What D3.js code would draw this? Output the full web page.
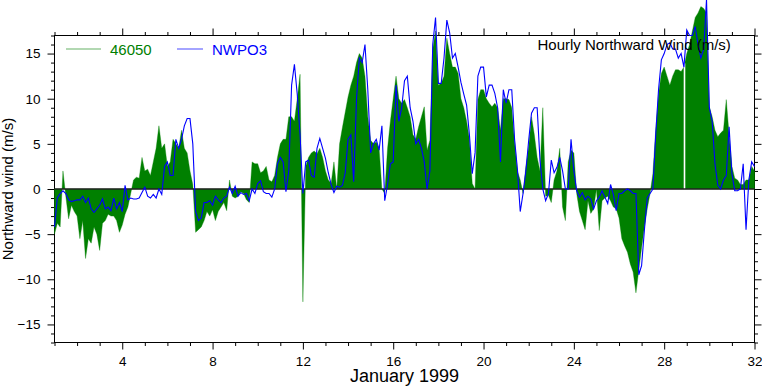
<!DOCTYPE html>
<html>
<head>
<meta charset="utf-8">
<script src="https://cdn.jsdelivr.net/npm/d3@7"></script>
<style>
body { margin: 0; background: #fff; }
text { font-family: "Liberation Sans", Arial, Helvetica, sans-serif; }
</style>
</head>
<body>
<svg id="chart" width="762" height="387"></svg>
<script>
// hourly records, every 3 hours (8 values per day), from Jan 1 00h to Feb 1 00h
var firstDay = 1;
var samplesPerDay = 8;

var buoy46050 = [
  -5.0, -3.8, -4.2, 2.0, -0.8, -3.3, -1.8, -2.5,
  -3.0, -5.5, -3.5, -7.7, -5.5, -6.0, -4.2, -5.0,
  -6.8, -3.8, -3.5, -2.8, -3.0, -3.0, -3.5, -4.8,
  -4.0, -2.8, -2.0, -0.5, 1.0, 1.3, 1.2, 3.5,
  2.0, 2.2, 1.5, 3.0, 4.5, 7.0, 4.5, 5.0,
  2.5, 3.0, 5.5, 5.0, 4.5, 6.5, 4.5, 4.0,
  2.0, 0.5, -4.8, -4.5, -4.2, -3.5, -2.5, -3.0,
  -2.3, -3.5, -2.5, -2.0, -1.5, -2.4, 1.0, -0.8,
  -1.0, -0.8, -0.3, -0.5, -1.2, -1.5, 3.0, 2.8,
  2.8, 1.8, 2.0, 2.5, 1.0, 0.8, 1.5, 3.5,
  5.0, 5.5, 5.5, 8.0, 8.0, 7.5, 10.0, 12.7,
  -12.5, 2.5, 3.5, 4.0, 4.2, 3.9, 4.5, 3.5,
  2.0, 1.0, 0.6, 3.0, 0.0, 5.0, 6.8, 8.5,
  10.2, 11.5, 12.5, 14.0, 15.0, 14.5, 12.5, 8.0,
  5.4, 5.0, 5.2, 4.5, 0.0, -0.5, 4.5, 7.5,
  10.0, 12.5, 10.0, 9.5, 9.9, 9.0, 8.0, 6.0,
  5.5, 6.9, 8.0, 9.1, 4.3, 5.4, 15.5, 17.5,
  11.5, 11.7, 12.5, 16.7, 15.0, 13.5, 13.5, 12.8,
  10.0, 9.0, 7.5, 5.5, 0.6, 0.0, 9.9, 11.0,
  11.0, 10.0, 9.5, 9.1, 9.5, 9.0, 6.5, 10.0,
  10.0, 9.9, 9.0, 5.2, 2.0, 1.0, -0.5, 2.5,
  4.7, 8.0, 6.0, 3.5, 2.0, 9.0, -0.8, -0.7,
  -1.5, 1.0, 2.0, 4.5, -2.0, -3.5, 3.0, 4.3,
  4.0, -0.5, -2.5, -3.5, -4.5, -1.3, -2.7, -2.2,
  0.0, -4.6, -1.3, -1.0, -0.8, -1.3, -2.0, -2.2,
  -3.2, -5.5, -6.3, -7.0, -8.3, -9.2, -11.5, -9.0,
  -6.5, -4.2, -2.2, -0.5, 1.7, 6.5, 10.5, 12.8,
  13.5, 12.5, 11.5, 12.5, 13.2, 13.2, 13.0, 13.5,
  15.0, 16.0, 17.5, 19.0, 19.5, 20.2, 20.0, 19.5,
  9.1, 8.0, 6.5, 5.8, 6.2, 6.5, 9.9, 6.0,
  2.5, 1.2, 1.0, 0.5, 0.5, 1.0, 1.0, 2.5,
  2.0
];

var nwpo3 = [
  -4.2, -1.0, -0.5, -0.2, -0.5, -1.2, -1.4, -1.3,
  -1.2, -1.2, -0.8, -1.5, -1.0, -2.2, -2.6, -2.2,
  -1.8, -1.1, -2.2, -2.0, -2.4, -1.0, -2.2, -1.5,
  -2.5, 0.4, -1.2, -1.0, -1.1, -1.1, -1.0, -0.4,
  0.2, -0.8, -1.0, -0.6, -1.0, 0.0, -0.6, 2.5,
  3.0, 1.5, 1.5, 5.5, 4.5, 5.5, 7.0, 7.8,
  7.8, 5.0, -2.5, -3.5, -3.2, -1.5, -1.5, -1.3,
  -1.8, -0.8, -1.2, -1.5, -1.0, -0.8, 0.2, -0.5,
  0.3, -0.8, -0.4, -0.6, -0.5, -1.3, 0.0, -0.5,
  0.6, 0.9, -0.3, -0.5, -0.5, -0.9, 0.0, 2.8,
  3.5, 3.0, -0.3, 2.0, 11.5, 13.8, 10.5, 6.0,
  -0.5, 3.0, 3.2, 1.5, 1.3, 4.5, 5.6, 4.5,
  3.4, 1.8, 0.5, -0.4, 0.3, 0.2, 0.4, 1.8,
  5.5, 6.0, 0.8, 10.0, 14.5, 14.0, 16.0, 11.0,
  4.0, 5.0, 5.5, 4.3, 7.0, -1.3, 0.5, 2.8,
  3.0, 11.5, 7.5, 9.0, 12.0, 12.5, 9.0, 7.5,
  5.0, 5.5, 4.5, 3.0, 0.0, 2.0, 16.0, 19.0,
  11.7, 11.7, 14.5, 18.7, 17.3, 14.5, 15.0, 13.5,
  11.8, 10.5, 9.3, 6.0, 1.7, 4.0, 12.5, 13.5,
  13.5, 10.2, 11.5, 11.5, 10.6, 9.0, 3.0, 11.0,
  9.5, 11.0, 11.0, 5.5, 2.2, -2.5, -0.5, 2.0,
  5.4, 8.4, 9.0, 9.0, 3.2, 0.0, -1.3, -0.5,
  3.2, 1.8, 2.4, 3.5, 2.0, 0.0, 0.0, 5.5,
  2.0, -0.2, -0.9, -0.4, -1.2, -0.8, -1.1, -2.2,
  -1.3, -0.9, -0.2, -0.9, -1.6, 0.5, -0.6, -2.4,
  -0.5, -0.5, -0.2, 0.0, -0.2, -0.5, -0.5, -9.5,
  -8.5, -4.5, -1.0, -0.5, 0.0, 6.0, 11.0, 14.3,
  15.0, 16.0, 16.2, 15.5, 15.5, 14.5, 15.0, 13.5,
  17.6, 17.0, 17.0, 18.0, 16.0, 14.5, 15.5, 21.0,
  9.0, 7.5, 2.8, 0.4, 0.0, 1.0, 1.5, 6.9,
  1.7, -0.2, -0.2, 0.0, 2.8, -4.5, 1.0, 3.0,
  2.5
];

// missing hour in the buoy record (day of month)
var gaps46050 = [28.9];

var xMajorTicks = [4, 8, 12, 16, 20, 24, 28, 32];
var yMajorTicks = [-15, -10, -5, 0, 5, 10, 15];
var seriesNames = ["46050", "NWPO3"];

var buoyColor = "#008000";
var landColor = "#0000ff";

var svg = d3.select("#chart");

var x = d3.scaleLinear().domain([1, 32]).range([54.5, 754.5]);
var y = d3.scaleLinear().domain([-17, 17]).range([342.5, 35.5]);

var toPoints = function(values) {
  return values.map(function(v, i) {
    return { t: firstDay + i / samplesPerDay, v: v };
  });
};
var buoyPts = toPoints(buoy46050);
var landPts = toPoints(nwpo3);

// frame
svg.append("rect")
  .attr("x", x(1)).attr("y", y(17))
  .attr("width", x(32) - x(1)).attr("height", y(-17) - y(17))
  .attr("fill", "none").attr("stroke", "#000").attr("stroke-width", 1);

// axes, major + minor ticks on all four sides
var xMinor = d3.range(1, 33).filter(function(d) { return d % 4 !== 0; });
var yMinor = d3.range(-17, 18).filter(function(d) { return d % 5 !== 0; });

var drawAxis = function(axis, tx, ty) {
  var g = svg.append("g").attr("transform", "translate(" + tx + "," + ty + ")").call(axis);
  g.select(".domain").remove();
  g.selectAll("line").attr("stroke", "#000");
  g.selectAll("text").attr("fill", "#000").style("font-size", "13.5px");
  return g;
};

drawAxis(d3.axisBottom(x).tickValues(xMajorTicks).tickSize(7).tickPadding(7).tickFormat(d3.format("d")), 0, y(-17));
drawAxis(d3.axisBottom(x).tickValues(xMinor).tickSize(3.5).tickFormat(""), 0, y(-17));
drawAxis(d3.axisTop(x).tickValues(xMajorTicks).tickSize(7).tickFormat(""), 0, y(17));
drawAxis(d3.axisTop(x).tickValues(xMinor).tickSize(3.5).tickFormat(""), 0, y(17));
drawAxis(d3.axisLeft(y).tickValues(yMajorTicks).tickSize(7).tickPadding(7).tickFormat(d3.format("d")), x(1), 0);
drawAxis(d3.axisLeft(y).tickValues(yMinor).tickSize(3.5).tickFormat(""), x(1), 0);
drawAxis(d3.axisRight(y).tickValues(yMajorTicks).tickSize(7).tickFormat(""), x(32), 0);
drawAxis(d3.axisRight(y).tickValues(yMinor).tickSize(3.5).tickFormat(""), x(32), 0);

// buoy series as filled area from zero
var area = d3.area()
  .x(function(d) { return x(d.t); })
  .y0(y(0))
  .y1(function(d) { return y(d.v); });

svg.append("path")
  .datum(buoyPts)
  .attr("d", area)
  .attr("fill", buoyColor)
  .attr("stroke", buoyColor)
  .attr("stroke-width", 0.6)
  .attr("stroke-opacity", 0.6);

// data gap in the buoy record
var interpBuoy = function(t) {
  var i = Math.min(Math.floor((t - firstDay) * samplesPerDay), buoyPts.length - 2);
  var a = buoyPts[i], b = buoyPts[i + 1];
  return a.v + (b.v - a.v) * (t - a.t) / (b.t - a.t);
};
svg.selectAll(".gap")
  .data(gaps46050)
  .enter().append("line")
  .attr("class", "gap")
  .attr("x1", function(d) { return x(d); })
  .attr("x2", function(d) { return x(d); })
  .attr("y1", y(0))
  .attr("y2", function(d) { return y(interpBuoy(d)) - 1; })
  .attr("stroke", "#fff")
  .attr("stroke-width", 1.6);

// zero reference
svg.append("line")
  .attr("x1", x(1)).attr("x2", x(32))
  .attr("y1", y(0)).attr("y2", y(0))
  .attr("stroke", "#222").attr("stroke-width", 1.6);

// land station line
var line = d3.line()
  .x(function(d) { return x(d.t); })
  .y(function(d) { return y(d.v); });

svg.append("path")
  .datum(landPts)
  .attr("d", line)
  .attr("fill", "none")
  .attr("stroke", landColor)
  .attr("stroke-width", 1.1);

// legend
var legend = svg.append("g");
legend.append("line").attr("x1", 66).attr("x2", 101).attr("y1", 49).attr("y2", 49)
  .attr("stroke", buoyColor).attr("stroke-width", 1.2).attr("stroke-opacity", 0.6);
legend.append("text").attr("x", 110).attr("y", 55).text(seriesNames[0])
  .attr("fill", buoyColor).style("font-size", "15px");
legend.append("line").attr("x1", 177).attr("x2", 203).attr("y1", 49).attr("y2", 49)
  .attr("stroke", landColor).attr("stroke-width", 1.2).attr("stroke-opacity", 0.6);
legend.append("text").attr("x", 212).attr("y", 55).text(seriesNames[1])
  .attr("fill", landColor).style("font-size", "15px");

// titles
svg.append("text")
  .attr("x", 537.5).attr("y", 49.5)
  .style("font-size", "15px")
  .text("Hourly Northward Wind (m/s)");

svg.append("text")
  .attr("x", 404.5).attr("y", 382)
  .attr("text-anchor", "middle")
  .style("font-size", "18px")
  .text("January 1999");

svg.append("text")
  .attr("transform", "translate(13," + y(0) + ") rotate(-90)")
  .attr("text-anchor", "middle")
  .style("font-size", "15px")
  .text("Northward wind (m/s)");
</script>
</body>
</html>
